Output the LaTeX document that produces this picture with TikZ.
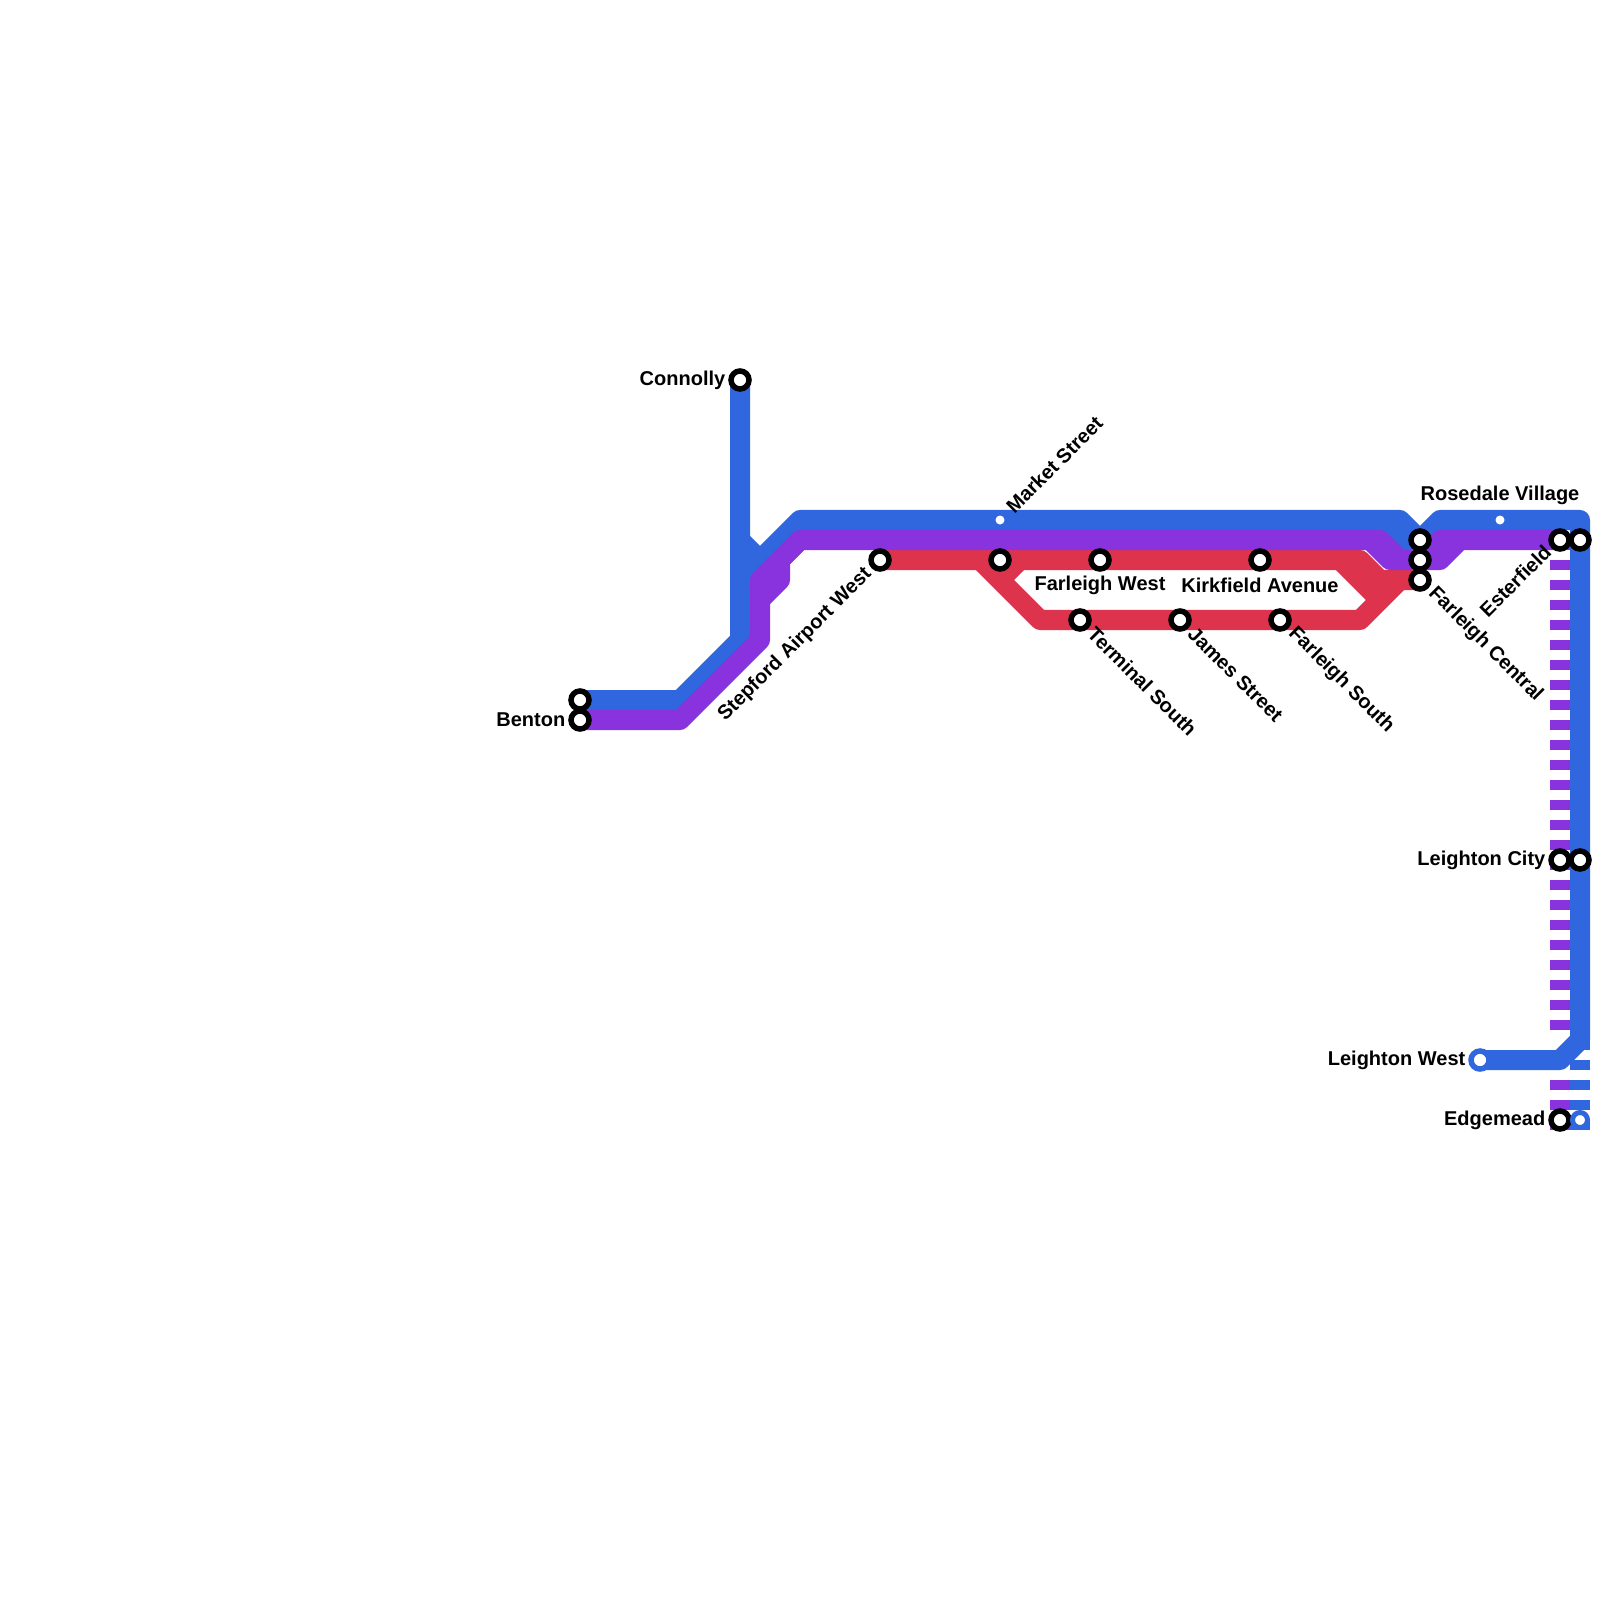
\documentclass[tikz,border=0pt]{standalone}
\usepackage{fontspec}
\setmainfont{Liberation Sans}
\begin{document}
\begin{tikzpicture}[x=0.01cm, y=-0.01cm,
    metroLine/.style={line width=0.2cm, line join=round},
    station/.style={circle, draw=black, fill=white, line width=0.055cm, minimum size=0.18cm, inner sep=0pt},
    blueStation/.style={station, draw=blueColour},
    tinyStation/.style={circle, fill=white, minimum size=0.09cm, inner sep=0pt},
    nameLabel/.style={font=\fontsize{5.69}{7}\selectfont\bfseries, inner sep=0pt, text=black}]

    \definecolor{blueColour}{HTML}{3167DE}
    \definecolor{purpleColour}{HTML}{8833DD}
    \definecolor{redColour}{HTML}{DD334D}

    \useasboundingbox (0,0) rectangle (1600,1600);

    % Define coordinates for stations
    \foreach \name/\x/\y in {Connolly/740/380, BentonTop/580/700, Benton/580/720,
        Stepford/880/560, MarketTop/1000/520, MarketRed/1000/560, FarleighWest/1100/560,
        Kirkfield/1260/560, Terminal/1080/620, James/1180/620, FarleighSouth/1280/620,
        CentralTop/1420/540, CentralMid/1420/560, Central/1420/580, Rosedale/1500/520,
        Esterfield/1560/540, EsterfieldBlue/1580/540, LeightonCity/1560/860,
        LeightonBlue/1580/860, LeightonWest/1480/1060, Edgemead/1560/1120,
        EdgemeadBlue/1580/1120}
        \coordinate (\name) at (\x,\y);

    % Define coordinates for the bends
    \foreach \name/\x/\y in {bA/740/640, bB/680/700, bC/740/540, bD/760/560, bE/800/520,
        bF/1400/520, bG/1440/520, bH/1580/520, bI/1580/1040, bJ/1560/1060, bK/680/720,
        bL/760/640, bM/760/580, bN/800/540, bO/780/560, bP/780/580, bQ/760/600,
        bR/1380/540, bS/1400/560, bT/1370/540, bU/1390/560, bV/1440/560, bW/1460/540,
        bX/1440/540, bY/1380/520, bZ/740/580, rA/980/560, rB/1040/620, rC/1360/620,
        rD/1400/580, rE/1340/560, rF/1360/560, rG/1020/560, rH/1000/580, rI/1380/600,
        rJ/1380/580, pA/1560/1030, pB/1560/1080, pC/1560/1130, eA/1580/1130}
        \coordinate (\name) at (\x,\y);

    % Draw red line
    \draw[metroLine, redColour] (Stepford) -- (rF) -- (rJ) -- (Central);
    \draw[metroLine, redColour] (rA) -- (rB) -- (rC) -- (rD);
    \draw[metroLine, redColour] (rG) -- (rH);
    \draw[metroLine, redColour] (rE) -- (rI);

    % Draw blue line
    \draw[metroLine, blueColour] (Connolly) -- (bA) -- (bB) -- (BentonTop);
    \draw[metroLine, blueColour] (bC) -- (bD) -- (bE) -- (bF) -- (CentralTop) -- (bG) -- (bH) -- (bI) -- (bJ) -- (LeightonWest);
    \draw[metroLine, blueColour] (bD) -- (bZ);
    \draw[metroLine, blueColour] (bY) -- (CentralMid);
    \draw[metroLine, blueColour, dash pattern=on 0.1cm off 0.1cm] (bI) -- (eA);

    % Draw purple line
    \draw[metroLine, purpleColour] (Benton) -- (bK) -- (bL) -- (bM) -- (bN) -- (bR) -- (bS) -- (bV) -- (bW) -- (Esterfield);
    \draw[metroLine, purpleColour] (bN) -- (bO) -- (bP) -- (bQ);
    \draw[metroLine, purpleColour] (bT) -- (bU) -- (bS);
    \draw[metroLine, purpleColour] (CentralMid) -- (bX) -- (bW);
    \draw[metroLine, purpleColour, dash pattern=on 0.1cm off 0.1cm] (Esterfield) -- (pA);
    \draw[metroLine, purpleColour, dash pattern=on 0.1cm off 0.1cm] (pB) -- (pC);

    % Draw stations
    \foreach \name in {Connolly, BentonTop, Benton, Stepford, MarketRed, FarleighWest,
        Kirkfield, Terminal, James, FarleighSouth, CentralTop, CentralMid, Central,
        Esterfield, EsterfieldBlue, LeightonCity, LeightonBlue, Edgemead}
        \node[station] (n\name) at (\name) {};
    \node[blueStation] (nLeightonWest) at (LeightonWest) {};
    \node[blueStation, minimum size=0.15cm, line width=0.05cm] (nEdgemeadBlue) at (EdgemeadBlue) {};
    \node[tinyStation] (nMarketTop) at (MarketTop) {};
    \node[tinyStation] (nRosedale) at (Rosedale) {};

    % Label stations
    \node[nameLabel, anchor=east] (lConnolly) at (726,380) {Connolly};
    \node[nameLabel, anchor=east] (lBenton) at (566,720) {Benton};
    \node[nameLabel, anchor=east] (lLeightonCity) at (1546,860) {Leighton City};
    \node[nameLabel, anchor=east] (lLeightonWest) at (1466,1060) {Leighton West};
    \node[nameLabel, anchor=east] (lEdgemead) at (1546,1120) {Edgemead};
    \node[nameLabel] (lFarleighWest) at (1100,585) {Farleigh West};
    \node[nameLabel] (lKirkfield) at (1260,585) {Kirkfield Avenue};
    \node[nameLabel] (lRosedale) at (1500,495) {Rosedale Village};
    \node[nameLabel, anchor=west, rotate=45] (lMarket) at (1009,510) {Market Street};
    \node[nameLabel, anchor=east, rotate=45] (lStepford) at (869,571) {Stepford Airport West};
    \node[nameLabel, anchor=east, rotate=45] (lEsterfield) at (1548,548) {Esterfield};
    \node[nameLabel, anchor=west, rotate=-45] (lTerminal) at (1091,630) {Terminal South};
    \node[nameLabel, anchor=west, rotate=-45] (lJames) at (1191,630) {James Street};
    \node[nameLabel, anchor=west, rotate=-45] (lFarleighSouth) at (1291,630) {Farleigh South};
    \node[nameLabel, anchor=west, rotate=-45] (lCentral) at (1431,590) {Farleigh Central};

\end{tikzpicture}
\end{document}
